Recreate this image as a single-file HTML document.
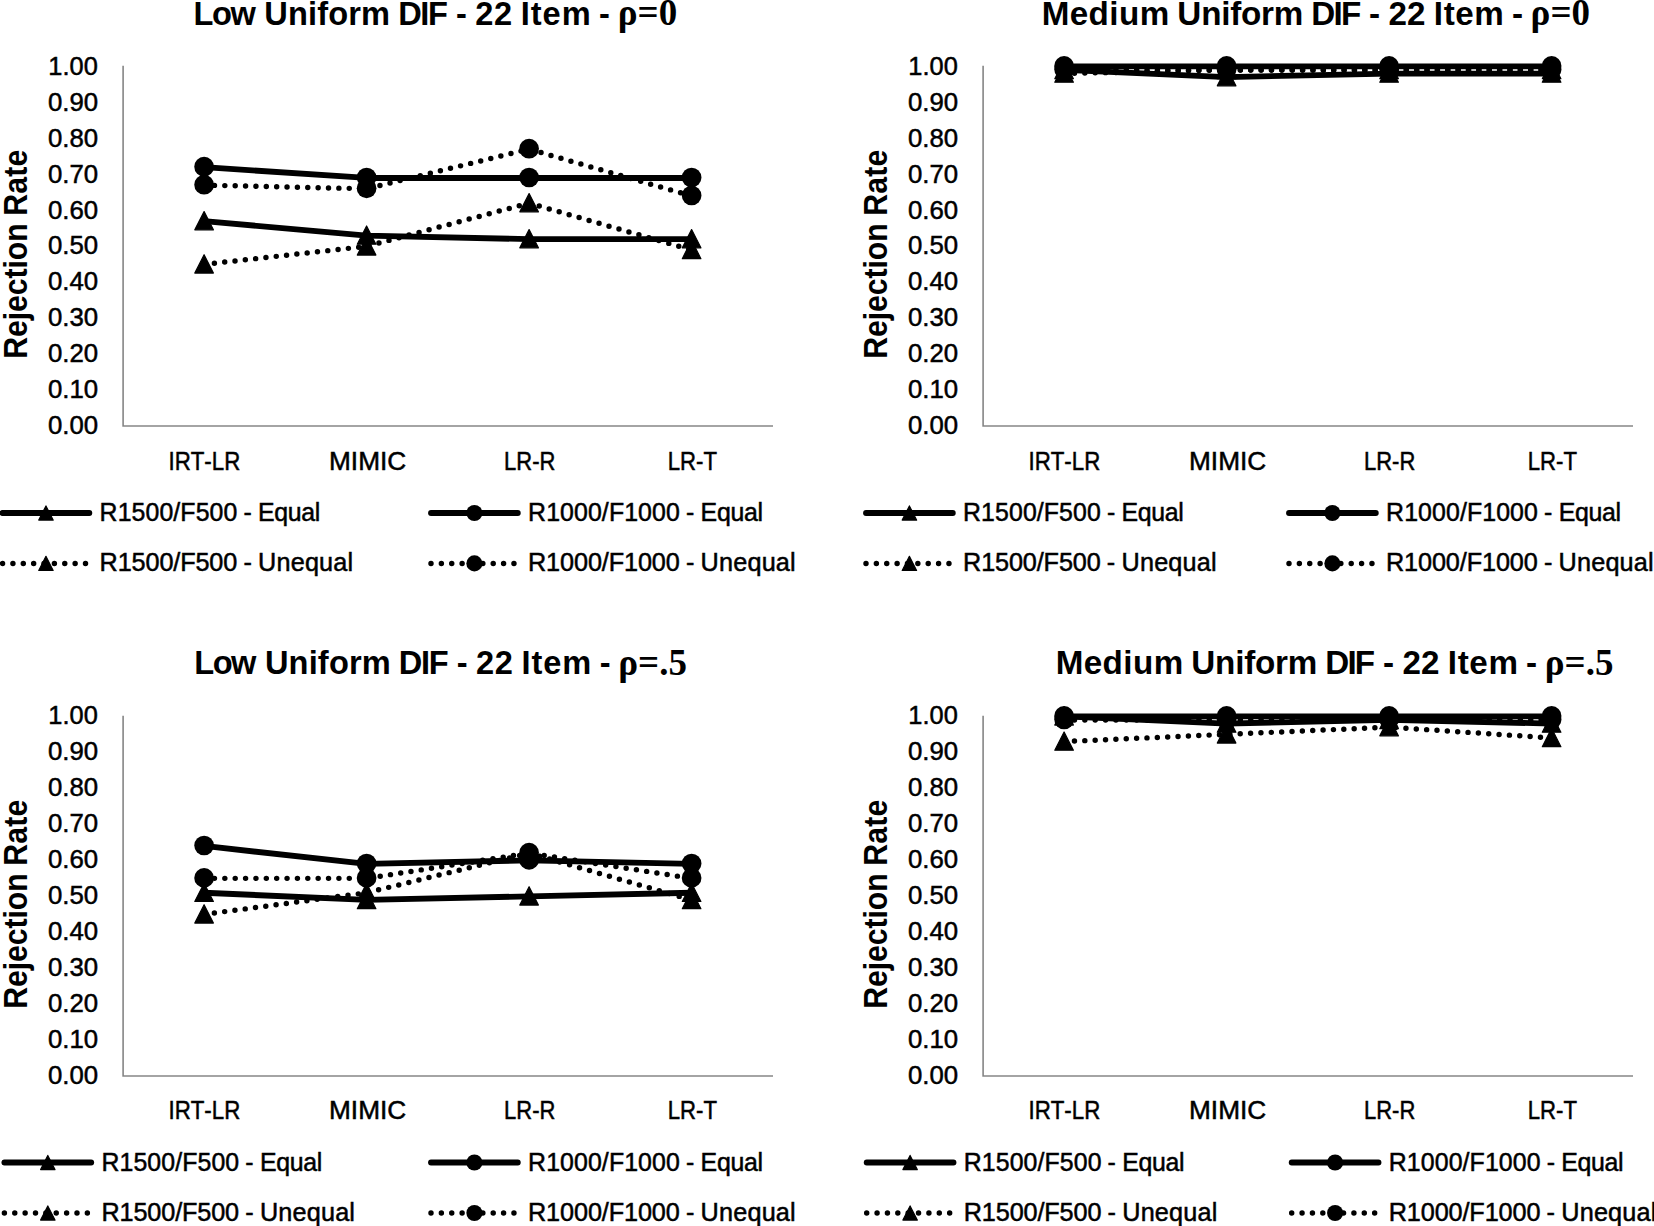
<!DOCTYPE html>
<html lang="en">
<head>
<meta charset="utf-8">
<title>Rejection rates - Uniform DIF, 22 items</title>
<style>
html,body{margin:0;padding:0;background:#fff;}
svg{display:block;}
text{fill:#000;white-space:pre;}
</style>
</head>
<body>
<svg width="1654" height="1226" viewBox="0 0 1654 1226">
<rect x="0" y="0" width="1654" height="1226" fill="#fff"/>
<!-- chart 1 -->
<path d="M123.1 65.8 V426.05 H773" fill="none" stroke="#868686" stroke-width="1.6"/>
<polyline points="204.1,221.15 366.6,235.55 529.1,239.15 691.6,239.15" fill="none" stroke="#000" stroke-width="5.85" stroke-linecap="round" stroke-linejoin="round"/>
<polygon points="204.1,211.55 213.4,229.85 194.8,229.85" fill="#000" stroke="#000" stroke-width="1.2" stroke-linejoin="round"/>
<polygon points="366.6,225.95 375.9,244.25 357.3,244.25" fill="#000" stroke="#000" stroke-width="1.2" stroke-linejoin="round"/>
<polygon points="529.1,229.55 538.4,247.85 519.8,247.85" fill="#000" stroke="#000" stroke-width="1.2" stroke-linejoin="round"/>
<polygon points="691.6,229.55 700.9,247.85 682.3,247.85" fill="#000" stroke="#000" stroke-width="1.2" stroke-linejoin="round"/>
<polyline points="204.1,167.15 366.6,177.95 529.1,177.95 691.6,177.95" fill="none" stroke="#000" stroke-width="5.85" stroke-linecap="round" stroke-linejoin="round"/>
<circle cx="204.1" cy="166.7" r="9.85" fill="#000"/>
<circle cx="366.6" cy="177.5" r="9.85" fill="#000"/>
<circle cx="529.1" cy="177.5" r="9.85" fill="#000"/>
<circle cx="691.6" cy="177.5" r="9.85" fill="#000"/>
<polyline points="204.1,264.35 366.6,246.35 529.1,203.15 691.6,249.95" fill="none" stroke="#000" stroke-width="5.45" stroke-linecap="round" stroke-linejoin="round" stroke-dasharray="0 10.37"/>
<polygon points="204.1,254.75 213.4,273.05 194.8,273.05" fill="#000" stroke="#000" stroke-width="1.2" stroke-linejoin="round"/>
<polygon points="366.6,236.75 375.9,255.05 357.3,255.05" fill="#000" stroke="#000" stroke-width="1.2" stroke-linejoin="round"/>
<polygon points="529.1,193.55 538.4,211.85 519.8,211.85" fill="#000" stroke="#000" stroke-width="1.2" stroke-linejoin="round"/>
<polygon points="691.6,240.35 700.9,258.65 682.3,258.65" fill="#000" stroke="#000" stroke-width="1.2" stroke-linejoin="round"/>
<polyline points="204.1,185.15 366.6,188.75 529.1,149.15 691.6,195.95" fill="none" stroke="#000" stroke-width="5.45" stroke-linecap="round" stroke-linejoin="round" stroke-dasharray="0 10.37"/>
<circle cx="204.1" cy="184.7" r="9.85" fill="#000"/>
<circle cx="366.6" cy="188.3" r="9.85" fill="#000"/>
<circle cx="529.1" cy="148.7" r="9.85" fill="#000"/>
<circle cx="691.6" cy="195.5" r="9.85" fill="#000"/>
<line x1="2.55" y1="513" x2="89.35" y2="513" stroke="#000" stroke-width="5.85" stroke-linecap="round"/>
<polygon points="45.95,505.9 53.15,520.1 38.75,520.1" fill="#000" stroke="#000" stroke-width="1.2" stroke-linejoin="round"/>
<line x1="2.55" y1="563.4" x2="89.35" y2="563.4" stroke="#000" stroke-width="5.45" stroke-linecap="round" stroke-dasharray="0 10.37"/>
<polygon points="45.95,556.3 53.15,570.5 38.75,570.5" fill="#000" stroke="#000" stroke-width="1.2" stroke-linejoin="round"/>
<line x1="431" y1="513" x2="517.8" y2="513" stroke="#000" stroke-width="5.85" stroke-linecap="round"/>
<circle cx="474.4" cy="513" r="8.05" fill="#000"/>
<line x1="431" y1="563.4" x2="517.8" y2="563.4" stroke="#000" stroke-width="5.45" stroke-linecap="round" stroke-dasharray="0 10.37"/>
<circle cx="474.4" cy="563.4" r="8.05" fill="#000"/>
<!-- chart 2 -->
<path d="M983.1 65.8 V426.05 H1633" fill="none" stroke="#868686" stroke-width="1.6"/>
<polyline points="1064.1,69.95 1226.6,77.15 1389.1,73.55 1551.6,73.55" fill="none" stroke="#000" stroke-width="5.85" stroke-linecap="round" stroke-linejoin="round"/>
<polygon points="1064.1,60.35 1073.4,78.65 1054.8,78.65" fill="#000" stroke="#000" stroke-width="1.2" stroke-linejoin="round"/>
<polygon points="1226.6,67.55 1235.9,85.85 1217.3,85.85" fill="#000" stroke="#000" stroke-width="1.2" stroke-linejoin="round"/>
<polygon points="1389.1,63.95 1398.4,82.25 1379.8,82.25" fill="#000" stroke="#000" stroke-width="1.2" stroke-linejoin="round"/>
<polygon points="1551.6,63.95 1560.9,82.25 1542.3,82.25" fill="#000" stroke="#000" stroke-width="1.2" stroke-linejoin="round"/>
<polyline points="1064.1,66.35 1226.6,66.35 1389.1,66.35 1551.6,66.35" fill="none" stroke="#000" stroke-width="5.85" stroke-linecap="round" stroke-linejoin="round"/>
<circle cx="1064.1" cy="65.9" r="9.85" fill="#000"/>
<circle cx="1226.6" cy="65.9" r="9.85" fill="#000"/>
<circle cx="1389.1" cy="65.9" r="9.85" fill="#000"/>
<circle cx="1551.6" cy="65.9" r="9.85" fill="#000"/>
<polyline points="1064.1,73.55 1226.6,69.95 1389.1,69.95 1551.6,69.95" fill="none" stroke="#000" stroke-width="5.45" stroke-linecap="round" stroke-linejoin="round" stroke-dasharray="0 10.37"/>
<polygon points="1064.1,63.95 1073.4,82.25 1054.8,82.25" fill="#000" stroke="#000" stroke-width="1.2" stroke-linejoin="round"/>
<polygon points="1226.6,60.35 1235.9,78.65 1217.3,78.65" fill="#000" stroke="#000" stroke-width="1.2" stroke-linejoin="round"/>
<polygon points="1389.1,60.35 1398.4,78.65 1379.8,78.65" fill="#000" stroke="#000" stroke-width="1.2" stroke-linejoin="round"/>
<polygon points="1551.6,60.35 1560.9,78.65 1542.3,78.65" fill="#000" stroke="#000" stroke-width="1.2" stroke-linejoin="round"/>
<polyline points="1064.1,69.95 1226.6,69.95 1389.1,69.95 1551.6,69.95" fill="none" stroke="#000" stroke-width="5.45" stroke-linecap="round" stroke-linejoin="round" stroke-dasharray="0 10.37"/>
<circle cx="1064.1" cy="69.5" r="9.85" fill="#000"/>
<circle cx="1226.6" cy="69.5" r="9.85" fill="#000"/>
<circle cx="1389.1" cy="69.5" r="9.85" fill="#000"/>
<circle cx="1551.6" cy="69.5" r="9.85" fill="#000"/>
<line x1="866" y1="513" x2="952.8" y2="513" stroke="#000" stroke-width="5.85" stroke-linecap="round"/>
<polygon points="909.4,505.9 916.6,520.1 902.2,520.1" fill="#000" stroke="#000" stroke-width="1.2" stroke-linejoin="round"/>
<line x1="866" y1="563.4" x2="952.8" y2="563.4" stroke="#000" stroke-width="5.45" stroke-linecap="round" stroke-dasharray="0 10.37"/>
<polygon points="909.4,556.3 916.6,570.5 902.2,570.5" fill="#000" stroke="#000" stroke-width="1.2" stroke-linejoin="round"/>
<line x1="1289" y1="513" x2="1375.8" y2="513" stroke="#000" stroke-width="5.85" stroke-linecap="round"/>
<circle cx="1332.4" cy="513" r="8.05" fill="#000"/>
<line x1="1289" y1="563.4" x2="1375.8" y2="563.4" stroke="#000" stroke-width="5.45" stroke-linecap="round" stroke-dasharray="0 10.37"/>
<circle cx="1332.4" cy="563.4" r="8.05" fill="#000"/>
<!-- chart 3 -->
<path d="M123.1 715.8 V1076.05 H773" fill="none" stroke="#868686" stroke-width="1.6"/>
<polyline points="204.1,892.75 366.6,899.95 529.1,896.35 691.6,892.75" fill="none" stroke="#000" stroke-width="5.85" stroke-linecap="round" stroke-linejoin="round"/>
<polygon points="204.1,883.15 213.4,901.45 194.8,901.45" fill="#000" stroke="#000" stroke-width="1.2" stroke-linejoin="round"/>
<polygon points="366.6,890.35 375.9,908.65 357.3,908.65" fill="#000" stroke="#000" stroke-width="1.2" stroke-linejoin="round"/>
<polygon points="529.1,886.75 538.4,905.05 519.8,905.05" fill="#000" stroke="#000" stroke-width="1.2" stroke-linejoin="round"/>
<polygon points="691.6,883.15 700.9,901.45 682.3,901.45" fill="#000" stroke="#000" stroke-width="1.2" stroke-linejoin="round"/>
<polyline points="204.1,845.95 366.6,863.95 529.1,860.35 691.6,863.95" fill="none" stroke="#000" stroke-width="5.85" stroke-linecap="round" stroke-linejoin="round"/>
<circle cx="204.1" cy="845.5" r="9.85" fill="#000"/>
<circle cx="366.6" cy="863.5" r="9.85" fill="#000"/>
<circle cx="529.1" cy="859.9" r="9.85" fill="#000"/>
<circle cx="691.6" cy="863.5" r="9.85" fill="#000"/>
<polyline points="204.1,914.35 366.6,892.75 529.1,853.15 691.6,899.95" fill="none" stroke="#000" stroke-width="5.45" stroke-linecap="round" stroke-linejoin="round" stroke-dasharray="0 10.37"/>
<polygon points="204.1,904.75 213.4,923.05 194.8,923.05" fill="#000" stroke="#000" stroke-width="1.2" stroke-linejoin="round"/>
<polygon points="366.6,883.15 375.9,901.45 357.3,901.45" fill="#000" stroke="#000" stroke-width="1.2" stroke-linejoin="round"/>
<polygon points="529.1,843.55 538.4,861.85 519.8,861.85" fill="#000" stroke="#000" stroke-width="1.2" stroke-linejoin="round"/>
<polygon points="691.6,890.35 700.9,908.65 682.3,908.65" fill="#000" stroke="#000" stroke-width="1.2" stroke-linejoin="round"/>
<polyline points="204.1,878.35 366.6,878.35 529.1,853.15 691.6,878.35" fill="none" stroke="#000" stroke-width="5.45" stroke-linecap="round" stroke-linejoin="round" stroke-dasharray="0 10.37"/>
<circle cx="204.1" cy="877.9" r="9.85" fill="#000"/>
<circle cx="366.6" cy="877.9" r="9.85" fill="#000"/>
<circle cx="529.1" cy="852.7" r="9.85" fill="#000"/>
<circle cx="691.6" cy="877.9" r="9.85" fill="#000"/>
<line x1="4.4" y1="1162.5" x2="91.2" y2="1162.5" stroke="#000" stroke-width="5.85" stroke-linecap="round"/>
<polygon points="47.8,1155.4 55,1169.6 40.6,1169.6" fill="#000" stroke="#000" stroke-width="1.2" stroke-linejoin="round"/>
<line x1="4.4" y1="1213" x2="91.2" y2="1213" stroke="#000" stroke-width="5.45" stroke-linecap="round" stroke-dasharray="0 10.37"/>
<polygon points="47.8,1205.9 55,1220.1 40.6,1220.1" fill="#000" stroke="#000" stroke-width="1.2" stroke-linejoin="round"/>
<line x1="431" y1="1162.5" x2="517.8" y2="1162.5" stroke="#000" stroke-width="5.85" stroke-linecap="round"/>
<circle cx="474.4" cy="1162.5" r="8.05" fill="#000"/>
<line x1="431" y1="1213" x2="517.8" y2="1213" stroke="#000" stroke-width="5.45" stroke-linecap="round" stroke-dasharray="0 10.37"/>
<circle cx="474.4" cy="1213" r="8.05" fill="#000"/>
<!-- chart 4 -->
<path d="M983.1 715.8 V1076.05 H1633" fill="none" stroke="#868686" stroke-width="1.6"/>
<polyline points="1064.1,716.35 1226.6,723.55 1389.1,719.95 1551.6,723.55" fill="none" stroke="#000" stroke-width="5.85" stroke-linecap="round" stroke-linejoin="round"/>
<polygon points="1064.1,706.75 1073.4,725.05 1054.8,725.05" fill="#000" stroke="#000" stroke-width="1.2" stroke-linejoin="round"/>
<polygon points="1226.6,713.95 1235.9,732.25 1217.3,732.25" fill="#000" stroke="#000" stroke-width="1.2" stroke-linejoin="round"/>
<polygon points="1389.1,710.35 1398.4,728.65 1379.8,728.65" fill="#000" stroke="#000" stroke-width="1.2" stroke-linejoin="round"/>
<polygon points="1551.6,713.95 1560.9,732.25 1542.3,732.25" fill="#000" stroke="#000" stroke-width="1.2" stroke-linejoin="round"/>
<polyline points="1064.1,716.35 1226.6,716.35 1389.1,716.35 1551.6,716.35" fill="none" stroke="#000" stroke-width="5.85" stroke-linecap="round" stroke-linejoin="round"/>
<circle cx="1064.1" cy="715.9" r="9.85" fill="#000"/>
<circle cx="1226.6" cy="715.9" r="9.85" fill="#000"/>
<circle cx="1389.1" cy="715.9" r="9.85" fill="#000"/>
<circle cx="1551.6" cy="715.9" r="9.85" fill="#000"/>
<polyline points="1064.1,741.55 1226.6,734.35 1389.1,727.15 1551.6,737.95" fill="none" stroke="#000" stroke-width="5.45" stroke-linecap="round" stroke-linejoin="round" stroke-dasharray="0 10.37"/>
<polygon points="1064.1,731.95 1073.4,750.25 1054.8,750.25" fill="#000" stroke="#000" stroke-width="1.2" stroke-linejoin="round"/>
<polygon points="1226.6,724.75 1235.9,743.05 1217.3,743.05" fill="#000" stroke="#000" stroke-width="1.2" stroke-linejoin="round"/>
<polygon points="1389.1,717.55 1398.4,735.85 1379.8,735.85" fill="#000" stroke="#000" stroke-width="1.2" stroke-linejoin="round"/>
<polygon points="1551.6,728.35 1560.9,746.65 1542.3,746.65" fill="#000" stroke="#000" stroke-width="1.2" stroke-linejoin="round"/>
<polyline points="1064.1,719.95 1226.6,719.95 1389.1,719.95 1551.6,719.95" fill="none" stroke="#000" stroke-width="5.45" stroke-linecap="round" stroke-linejoin="round" stroke-dasharray="0 10.37"/>
<circle cx="1064.1" cy="719.5" r="9.85" fill="#000"/>
<circle cx="1226.6" cy="719.5" r="9.85" fill="#000"/>
<circle cx="1389.1" cy="719.5" r="9.85" fill="#000"/>
<circle cx="1551.6" cy="719.5" r="9.85" fill="#000"/>
<line x1="866.7" y1="1162.5" x2="953.5" y2="1162.5" stroke="#000" stroke-width="5.85" stroke-linecap="round"/>
<polygon points="910.1,1155.4 917.3,1169.6 902.9,1169.6" fill="#000" stroke="#000" stroke-width="1.2" stroke-linejoin="round"/>
<line x1="866.7" y1="1213" x2="953.5" y2="1213" stroke="#000" stroke-width="5.45" stroke-linecap="round" stroke-dasharray="0 10.37"/>
<polygon points="910.1,1205.9 917.3,1220.1 902.9,1220.1" fill="#000" stroke="#000" stroke-width="1.2" stroke-linejoin="round"/>
<line x1="1291.7" y1="1162.5" x2="1378.5" y2="1162.5" stroke="#000" stroke-width="5.85" stroke-linecap="round"/>
<circle cx="1335.1" cy="1162.5" r="8.05" fill="#000"/>
<line x1="1291.7" y1="1213" x2="1378.5" y2="1213" stroke="#000" stroke-width="5.45" stroke-linecap="round" stroke-dasharray="0 10.37"/>
<circle cx="1335.1" cy="1213" r="8.05" fill="#000"/>
<g>
<text id="c1_tick0" transform="scale(0.9767 1)" x="49.52 63.98 71.2 85.66" y="74.65" style="font-family:'Liberation Sans',sans-serif;font-size:26px;stroke:#000;stroke-width:0.5px;">1.00</text>
<text id="c1_tick1" transform="scale(0.9922 1)" x="48.27 62.73 69.96 84.42" y="110.62" style="font-family:'Liberation Sans',sans-serif;font-size:26px;stroke:#000;stroke-width:0.5px;">0.90</text>
<text id="c1_tick2" transform="scale(0.9922 1)" x="48.27 62.73 69.96 84.42" y="146.58" style="font-family:'Liberation Sans',sans-serif;font-size:26px;stroke:#000;stroke-width:0.5px;">0.80</text>
<text id="c1_tick3" transform="scale(0.9922 1)" x="48.27 62.73 69.96 84.42" y="182.55" style="font-family:'Liberation Sans',sans-serif;font-size:26px;stroke:#000;stroke-width:0.5px;">0.70</text>
<text id="c1_tick4" transform="scale(0.9922 1)" x="48.27 62.73 69.96 84.42" y="218.51" style="font-family:'Liberation Sans',sans-serif;font-size:26px;stroke:#000;stroke-width:0.5px;">0.60</text>
<text id="c1_tick5" transform="scale(0.9922 1)" x="48.27 62.73 69.96 84.42" y="254.47" style="font-family:'Liberation Sans',sans-serif;font-size:26px;stroke:#000;stroke-width:0.5px;">0.50</text>
<text id="c1_tick6" transform="scale(0.9922 1)" x="48.27 62.73 69.96 84.42" y="290.44" style="font-family:'Liberation Sans',sans-serif;font-size:26px;stroke:#000;stroke-width:0.5px;">0.40</text>
<text id="c1_tick7" transform="scale(0.9922 1)" x="48.27 62.73 69.96 84.42" y="326.4" style="font-family:'Liberation Sans',sans-serif;font-size:26px;stroke:#000;stroke-width:0.5px;">0.30</text>
<text id="c1_tick8" transform="scale(0.9922 1)" x="48.27 62.73 69.96 84.42" y="362.37" style="font-family:'Liberation Sans',sans-serif;font-size:26px;stroke:#000;stroke-width:0.5px;">0.20</text>
<text id="c1_tick9" transform="scale(0.9922 1)" x="48.27 62.73 69.96 84.42" y="398.33" style="font-family:'Liberation Sans',sans-serif;font-size:26px;stroke:#000;stroke-width:0.5px;">0.10</text>
<text id="c1_tick10" transform="scale(0.9922 1)" x="48.27 62.73 69.96 84.42" y="434.3" style="font-family:'Liberation Sans',sans-serif;font-size:26px;stroke:#000;stroke-width:0.5px;">0.00</text>
<text id="c1_cat0" transform="scale(0.8919 1)" x="188.88 195.82 213.88 229.15 237.47 251.38" y="469.9" style="font-family:'Liberation Sans',sans-serif;font-size:25px;stroke:#000;stroke-width:0.5px;">IRT-LR</text>
<text id="c1_cat1" transform="scale(1.0495 1)" x="313.49 334.31 341.26 362.08 369.03" y="469.9" style="font-family:'Liberation Sans',sans-serif;font-size:25px;stroke:#000;stroke-width:0.5px;">MIMIC</text>
<text id="c1_cat2" transform="scale(0.8789 1)" x="573.5 587.4 605.46 613.78" y="469.9" style="font-family:'Liberation Sans',sans-serif;font-size:25px;stroke:#000;stroke-width:0.5px;">LR-R</text>
<text id="c1_cat3" transform="scale(0.8875 1)" x="752.36 766.27 784.32 792.64" y="469.9" style="font-family:'Liberation Sans',sans-serif;font-size:25px;stroke:#000;stroke-width:0.5px;">LR-T</text>
<text id="c1_axt" transform="translate(26.9 0) rotate(-90) scale(0.9349 1)" x="-383.73 -360.47 -342.58 -333.68 -315.79 -297.89 -287.21 -278.31 -258.65 -238.99 -230.65 -207.13 -188.98 -178.03" y="0" style="font-family:'Liberation Sans',sans-serif;font-size:32.3px;font-weight:bold;">Rejection Rate</text>
<text id="c1_title0" transform="scale(0.9591 1)" x="201.86 221.04 240.22 266.86 275.48 300.19 321.11 330.71 342.19 363.11 376.5 406.68 415.14 438.26 446.27 466.72 475.47 486.92 495.6 515.11 533.97 542.89 553.36 565.7 585.63 615.81 624.55" y="24.8" style="font-family:'Liberation Sans',sans-serif;font-size:34px;font-weight:bold;">Low Uniform DIF - 22 Item -</text>
<text id="c1_title1" x="617.81" y="25.2" style="font-family:'Liberation Serif',serif;font-size:37px;font-weight:bold;">ρ=0</text>
<text id="c1_lg00" transform="scale(0.9943 1)" x="100.18 118.33 132.33 146.34 160.34 174.34 181.38 196.75 210.75 224.75 238.4 244.86 253.3 259.55 275.9 289.48 303.06 316.64" y="520.9" style="font-family:'Liberation Sans',sans-serif;font-size:25px;stroke:#000;stroke-width:0.5px;">R1500/F500 - Equal</text>
<text id="c1_lg01" transform="scale(1.0102 1)" x="98.57 116.49 130.25 144.01 157.78 171.54 178.35 193.48 207.24 221 234.64 240.93 249.31 255.49 273.7 287.76 301.82 315.88 329.94 344" y="571.5" style="font-family:'Liberation Sans',sans-serif;font-size:25px;stroke:#000;stroke-width:0.5px;">R1500/F500 - Unequal</text>
<text id="c1_lg10" transform="scale(0.9956 1)" x="530.4 548.55 562.55 576.54 590.54 604.54 611.59 626.95 640.95 654.95 668.95 682.6 689.04 697.48 703.73 720.06 733.62 747.18 760.74" y="520.9" style="font-family:'Liberation Sans',sans-serif;font-size:25px;stroke:#000;stroke-width:0.5px;">R1000/F1000 - Equal</text>
<text id="c1_lg11" transform="scale(1.0104 1)" x="522.57 540.5 554.28 568.06 581.84 595.62 602.45 617.59 631.37 645.15 658.93 672.57 678.86 687.23 693.41 711.62 725.67 739.73 753.79 767.84 781.9" y="571.5" style="font-family:'Liberation Sans',sans-serif;font-size:25px;stroke:#000;stroke-width:0.5px;">R1000/F1000 - Unequal</text>
<text id="c2_tick0" transform="scale(0.9767 1)" x="930.04 944.5 951.72 966.18" y="74.65" style="font-family:'Liberation Sans',sans-serif;font-size:26px;stroke:#000;stroke-width:0.5px;">1.00</text>
<text id="c2_tick1" transform="scale(0.9922 1)" x="915.03 929.49 936.72 951.18" y="110.62" style="font-family:'Liberation Sans',sans-serif;font-size:26px;stroke:#000;stroke-width:0.5px;">0.90</text>
<text id="c2_tick2" transform="scale(0.9922 1)" x="915.03 929.49 936.72 951.18" y="146.58" style="font-family:'Liberation Sans',sans-serif;font-size:26px;stroke:#000;stroke-width:0.5px;">0.80</text>
<text id="c2_tick3" transform="scale(0.9922 1)" x="915.03 929.49 936.72 951.18" y="182.55" style="font-family:'Liberation Sans',sans-serif;font-size:26px;stroke:#000;stroke-width:0.5px;">0.70</text>
<text id="c2_tick4" transform="scale(0.9922 1)" x="915.03 929.49 936.72 951.18" y="218.51" style="font-family:'Liberation Sans',sans-serif;font-size:26px;stroke:#000;stroke-width:0.5px;">0.60</text>
<text id="c2_tick5" transform="scale(0.9922 1)" x="915.03 929.49 936.72 951.18" y="254.47" style="font-family:'Liberation Sans',sans-serif;font-size:26px;stroke:#000;stroke-width:0.5px;">0.50</text>
<text id="c2_tick6" transform="scale(0.9922 1)" x="915.03 929.49 936.72 951.18" y="290.44" style="font-family:'Liberation Sans',sans-serif;font-size:26px;stroke:#000;stroke-width:0.5px;">0.40</text>
<text id="c2_tick7" transform="scale(0.9922 1)" x="915.03 929.49 936.72 951.18" y="326.4" style="font-family:'Liberation Sans',sans-serif;font-size:26px;stroke:#000;stroke-width:0.5px;">0.30</text>
<text id="c2_tick8" transform="scale(0.9922 1)" x="915.03 929.49 936.72 951.18" y="362.37" style="font-family:'Liberation Sans',sans-serif;font-size:26px;stroke:#000;stroke-width:0.5px;">0.20</text>
<text id="c2_tick9" transform="scale(0.9922 1)" x="915.03 929.49 936.72 951.18" y="398.33" style="font-family:'Liberation Sans',sans-serif;font-size:26px;stroke:#000;stroke-width:0.5px;">0.10</text>
<text id="c2_tick10" transform="scale(0.9922 1)" x="915.03 929.49 936.72 951.18" y="434.3" style="font-family:'Liberation Sans',sans-serif;font-size:26px;stroke:#000;stroke-width:0.5px;">0.00</text>
<text id="c2_cat0" transform="scale(0.8919 1)" x="1153.09 1160.04 1178.09 1193.36 1201.69 1215.59" y="469.9" style="font-family:'Liberation Sans',sans-serif;font-size:25px;stroke:#000;stroke-width:0.5px;">IRT-LR</text>
<text id="c2_cat1" transform="scale(1.0495 1)" x="1132.92 1153.75 1160.69 1181.52 1188.46" y="469.9" style="font-family:'Liberation Sans',sans-serif;font-size:25px;stroke:#000;stroke-width:0.5px;">MIMIC</text>
<text id="c2_cat2" transform="scale(0.8789 1)" x="1551.96 1565.86 1583.91 1592.24" y="469.9" style="font-family:'Liberation Sans',sans-serif;font-size:25px;stroke:#000;stroke-width:0.5px;">LR-R</text>
<text id="c2_cat3" transform="scale(0.8875 1)" x="1721.35 1735.25 1753.3 1761.63" y="469.9" style="font-family:'Liberation Sans',sans-serif;font-size:25px;stroke:#000;stroke-width:0.5px;">LR-T</text>
<text id="c2_axt" transform="translate(887.2 0) rotate(-90) scale(0.9349 1)" x="-383.73 -360.47 -342.58 -333.68 -315.79 -297.89 -287.21 -278.31 -258.65 -238.99 -230.65 -207.13 -188.98 -178.03" y="0" style="font-family:'Liberation Sans',sans-serif;font-size:32.3px;font-weight:bold;">Rejection Rate</text>
<text id="c2_title0" transform="scale(0.9767 1)" x="1066.49 1095.25 1114.59 1135.8 1145.69 1166.89 1197.04 1205.46 1229.79 1250.33 1259.55 1270.65 1291.19 1304.2 1334.34 1342.6 1365.29 1372.87 1393.3 1401.79 1413.14 1421.64 1440.5 1459.34 1468.06 1478.12 1490.05 1509.56 1539.71 1548.19" y="24.8" style="font-family:'Liberation Sans',sans-serif;font-size:34px;font-weight:bold;">Medium Uniform DIF - 22 Item -</text>
<text id="c2_title1" x="1530.61" y="25.2" style="font-family:'Liberation Serif',serif;font-size:37px;font-weight:bold;">ρ=0</text>
<text id="c2_lg00" transform="scale(0.9943 1)" x="968.6 986.75 1000.75 1014.75 1028.75 1042.75 1049.79 1065.16 1079.16 1093.16 1106.81 1113.27 1121.71 1127.97 1144.32 1157.9 1171.48 1185.06" y="520.9" style="font-family:'Liberation Sans',sans-serif;font-size:25px;stroke:#000;stroke-width:0.5px;">R1500/F500 - Equal</text>
<text id="c2_lg01" transform="scale(1.0102 1)" x="953.31 971.23 984.99 998.75 1012.52 1026.28 1033.09 1048.22 1061.98 1075.74 1089.38 1095.67 1104.05 1110.23 1128.44 1142.5 1156.56 1170.62 1184.68 1198.74" y="571.5" style="font-family:'Liberation Sans',sans-serif;font-size:25px;stroke:#000;stroke-width:0.5px;">R1500/F500 - Unequal</text>
<text id="c2_lg10" transform="scale(0.9956 1)" x="1392.2 1410.35 1424.34 1438.34 1452.34 1466.34 1473.38 1488.75 1502.75 1516.75 1530.75 1544.4 1550.84 1559.28 1565.52 1581.86 1595.42 1608.98 1622.53" y="520.9" style="font-family:'Liberation Sans',sans-serif;font-size:25px;stroke:#000;stroke-width:0.5px;">R1000/F1000 - Equal</text>
<text id="c2_lg11" transform="scale(1.0104 1)" x="1371.71 1389.64 1403.42 1417.2 1430.98 1444.76 1451.58 1466.73 1480.51 1494.29 1508.07 1521.71 1528 1536.37 1542.55 1560.76 1574.81 1588.87 1602.93 1616.98 1631.04" y="571.5" style="font-family:'Liberation Sans',sans-serif;font-size:25px;stroke:#000;stroke-width:0.5px;">R1000/F1000 - Unequal</text>
<text id="c3_tick0" transform="scale(0.9767 1)" x="49.52 63.98 71.2 85.66" y="724.35" style="font-family:'Liberation Sans',sans-serif;font-size:26px;stroke:#000;stroke-width:0.5px;">1.00</text>
<text id="c3_tick1" transform="scale(0.9922 1)" x="48.27 62.73 69.96 84.42" y="760.32" style="font-family:'Liberation Sans',sans-serif;font-size:26px;stroke:#000;stroke-width:0.5px;">0.90</text>
<text id="c3_tick2" transform="scale(0.9922 1)" x="48.27 62.73 69.96 84.42" y="796.28" style="font-family:'Liberation Sans',sans-serif;font-size:26px;stroke:#000;stroke-width:0.5px;">0.80</text>
<text id="c3_tick3" transform="scale(0.9922 1)" x="48.27 62.73 69.96 84.42" y="832.25" style="font-family:'Liberation Sans',sans-serif;font-size:26px;stroke:#000;stroke-width:0.5px;">0.70</text>
<text id="c3_tick4" transform="scale(0.9922 1)" x="48.27 62.73 69.96 84.42" y="868.21" style="font-family:'Liberation Sans',sans-serif;font-size:26px;stroke:#000;stroke-width:0.5px;">0.60</text>
<text id="c3_tick5" transform="scale(0.9922 1)" x="48.27 62.73 69.96 84.42" y="904.18" style="font-family:'Liberation Sans',sans-serif;font-size:26px;stroke:#000;stroke-width:0.5px;">0.50</text>
<text id="c3_tick6" transform="scale(0.9922 1)" x="48.27 62.73 69.96 84.42" y="940.14" style="font-family:'Liberation Sans',sans-serif;font-size:26px;stroke:#000;stroke-width:0.5px;">0.40</text>
<text id="c3_tick7" transform="scale(0.9922 1)" x="48.27 62.73 69.96 84.42" y="976.11" style="font-family:'Liberation Sans',sans-serif;font-size:26px;stroke:#000;stroke-width:0.5px;">0.30</text>
<text id="c3_tick8" transform="scale(0.9922 1)" x="48.27 62.73 69.96 84.42" y="1012.07" style="font-family:'Liberation Sans',sans-serif;font-size:26px;stroke:#000;stroke-width:0.5px;">0.20</text>
<text id="c3_tick9" transform="scale(0.9922 1)" x="48.27 62.73 69.96 84.42" y="1048.04" style="font-family:'Liberation Sans',sans-serif;font-size:26px;stroke:#000;stroke-width:0.5px;">0.10</text>
<text id="c3_tick10" transform="scale(0.9922 1)" x="48.27 62.73 69.96 84.42" y="1084" style="font-family:'Liberation Sans',sans-serif;font-size:26px;stroke:#000;stroke-width:0.5px;">0.00</text>
<text id="c3_cat0" transform="scale(0.8919 1)" x="188.88 195.82 213.88 229.15 237.47 251.38" y="1119.3" style="font-family:'Liberation Sans',sans-serif;font-size:25px;stroke:#000;stroke-width:0.5px;">IRT-LR</text>
<text id="c3_cat1" transform="scale(1.0495 1)" x="313.49 334.31 341.26 362.08 369.03" y="1119.3" style="font-family:'Liberation Sans',sans-serif;font-size:25px;stroke:#000;stroke-width:0.5px;">MIMIC</text>
<text id="c3_cat2" transform="scale(0.8789 1)" x="573.5 587.4 605.46 613.78" y="1119.3" style="font-family:'Liberation Sans',sans-serif;font-size:25px;stroke:#000;stroke-width:0.5px;">LR-R</text>
<text id="c3_cat3" transform="scale(0.8875 1)" x="752.36 766.27 784.32 792.64" y="1119.3" style="font-family:'Liberation Sans',sans-serif;font-size:25px;stroke:#000;stroke-width:0.5px;">LR-T</text>
<text id="c3_axt" transform="translate(26.9 0) rotate(-90) scale(0.9349 1)" x="-1079 -1055.74 -1037.85 -1028.95 -1011.05 -993.16 -982.48 -973.57 -953.92 -934.25 -925.92 -902.4 -884.25 -873.3" y="0" style="font-family:'Liberation Sans',sans-serif;font-size:32.3px;font-weight:bold;">Rejection Rate</text>
<text id="c3_title0" transform="scale(0.9591 1)" x="202.59 221.77 240.95 267.59 276.21 300.92 321.84 331.44 342.92 363.84 377.23 407.41 415.87 438.99 447 467.45 476.2 487.65 496.33 515.84 534.7 543.62 554.09 566.43 586.36 616.54 625.28" y="674.3" style="font-family:'Liberation Sans',sans-serif;font-size:34px;font-weight:bold;">Low Uniform DIF - 22 Item -</text>
<text id="c3_title1" x="618.26" y="674.7" style="font-family:'Liberation Serif',serif;font-size:37px;font-weight:bold;">ρ=.5</text>
<text id="c3_lg00" transform="scale(0.9943 1)" x="102.04 120.2 134.2 148.2 162.2 176.2 183.24 198.61 212.61 226.61 240.26 246.72 255.16 261.42 277.77 291.34 304.92 318.5" y="1170.9" style="font-family:'Liberation Sans',sans-serif;font-size:25px;stroke:#000;stroke-width:0.5px;">R1500/F500 - Equal</text>
<text id="c3_lg01" transform="scale(1.0102 1)" x="100.41 118.32 132.08 145.85 159.61 173.37 180.18 195.31 209.07 222.84 236.48 242.77 251.14 257.32 275.53 289.59 303.65 317.71 331.77 345.83" y="1221" style="font-family:'Liberation Sans',sans-serif;font-size:25px;stroke:#000;stroke-width:0.5px;">R1500/F500 - Unequal</text>
<text id="c3_lg10" transform="scale(0.9956 1)" x="530.4 548.55 562.55 576.54 590.54 604.54 611.59 626.95 640.95 654.95 668.95 682.6 689.04 697.48 703.73 720.06 733.62 747.18 760.74" y="1170.9" style="font-family:'Liberation Sans',sans-serif;font-size:25px;stroke:#000;stroke-width:0.5px;">R1000/F1000 - Equal</text>
<text id="c3_lg11" transform="scale(1.0104 1)" x="522.57 540.5 554.28 568.06 581.84 595.62 602.45 617.59 631.37 645.15 658.93 672.57 678.86 687.23 693.41 711.62 725.67 739.73 753.79 767.84 781.9" y="1221" style="font-family:'Liberation Sans',sans-serif;font-size:25px;stroke:#000;stroke-width:0.5px;">R1000/F1000 - Unequal</text>
<text id="c4_tick0" transform="scale(0.9767 1)" x="930.04 944.5 951.72 966.18" y="724.35" style="font-family:'Liberation Sans',sans-serif;font-size:26px;stroke:#000;stroke-width:0.5px;">1.00</text>
<text id="c4_tick1" transform="scale(0.9922 1)" x="915.03 929.49 936.72 951.18" y="760.32" style="font-family:'Liberation Sans',sans-serif;font-size:26px;stroke:#000;stroke-width:0.5px;">0.90</text>
<text id="c4_tick2" transform="scale(0.9922 1)" x="915.03 929.49 936.72 951.18" y="796.28" style="font-family:'Liberation Sans',sans-serif;font-size:26px;stroke:#000;stroke-width:0.5px;">0.80</text>
<text id="c4_tick3" transform="scale(0.9922 1)" x="915.03 929.49 936.72 951.18" y="832.25" style="font-family:'Liberation Sans',sans-serif;font-size:26px;stroke:#000;stroke-width:0.5px;">0.70</text>
<text id="c4_tick4" transform="scale(0.9922 1)" x="915.03 929.49 936.72 951.18" y="868.21" style="font-family:'Liberation Sans',sans-serif;font-size:26px;stroke:#000;stroke-width:0.5px;">0.60</text>
<text id="c4_tick5" transform="scale(0.9922 1)" x="915.03 929.49 936.72 951.18" y="904.18" style="font-family:'Liberation Sans',sans-serif;font-size:26px;stroke:#000;stroke-width:0.5px;">0.50</text>
<text id="c4_tick6" transform="scale(0.9922 1)" x="915.03 929.49 936.72 951.18" y="940.14" style="font-family:'Liberation Sans',sans-serif;font-size:26px;stroke:#000;stroke-width:0.5px;">0.40</text>
<text id="c4_tick7" transform="scale(0.9922 1)" x="915.03 929.49 936.72 951.18" y="976.11" style="font-family:'Liberation Sans',sans-serif;font-size:26px;stroke:#000;stroke-width:0.5px;">0.30</text>
<text id="c4_tick8" transform="scale(0.9922 1)" x="915.03 929.49 936.72 951.18" y="1012.07" style="font-family:'Liberation Sans',sans-serif;font-size:26px;stroke:#000;stroke-width:0.5px;">0.20</text>
<text id="c4_tick9" transform="scale(0.9922 1)" x="915.03 929.49 936.72 951.18" y="1048.04" style="font-family:'Liberation Sans',sans-serif;font-size:26px;stroke:#000;stroke-width:0.5px;">0.10</text>
<text id="c4_tick10" transform="scale(0.9922 1)" x="915.03 929.49 936.72 951.18" y="1084" style="font-family:'Liberation Sans',sans-serif;font-size:26px;stroke:#000;stroke-width:0.5px;">0.00</text>
<text id="c4_cat0" transform="scale(0.8919 1)" x="1153.09 1160.04 1178.09 1193.36 1201.69 1215.59" y="1119.3" style="font-family:'Liberation Sans',sans-serif;font-size:25px;stroke:#000;stroke-width:0.5px;">IRT-LR</text>
<text id="c4_cat1" transform="scale(1.0495 1)" x="1132.92 1153.75 1160.69 1181.52 1188.46" y="1119.3" style="font-family:'Liberation Sans',sans-serif;font-size:25px;stroke:#000;stroke-width:0.5px;">MIMIC</text>
<text id="c4_cat2" transform="scale(0.8789 1)" x="1551.96 1565.86 1583.91 1592.24" y="1119.3" style="font-family:'Liberation Sans',sans-serif;font-size:25px;stroke:#000;stroke-width:0.5px;">LR-R</text>
<text id="c4_cat3" transform="scale(0.8875 1)" x="1721.35 1735.25 1753.3 1761.63" y="1119.3" style="font-family:'Liberation Sans',sans-serif;font-size:25px;stroke:#000;stroke-width:0.5px;">LR-T</text>
<text id="c4_axt" transform="translate(887.2 0) rotate(-90) scale(0.9349 1)" x="-1079 -1055.74 -1037.85 -1028.95 -1011.05 -993.16 -982.48 -973.57 -953.92 -934.25 -925.92 -902.4 -884.25 -873.3" y="0" style="font-family:'Liberation Sans',sans-serif;font-size:32.3px;font-weight:bold;">Rejection Rate</text>
<text id="c4_title0" transform="scale(0.9767 1)" x="1080.82 1109.58 1128.93 1150.14 1160.02 1181.23 1211.37 1219.79 1244.12 1264.67 1273.89 1284.98 1305.53 1318.53 1348.68 1356.94 1379.62 1387.2 1407.64 1416.12 1427.47 1435.98 1454.84 1473.68 1482.4 1492.45 1504.38 1523.9 1554.04 1562.53" y="674.3" style="font-family:'Liberation Sans',sans-serif;font-size:34px;font-weight:bold;">Medium Uniform DIF - 22 Item -</text>
<text id="c4_title1" x="1544.81" y="674.7" style="font-family:'Liberation Serif',serif;font-size:37px;font-weight:bold;">ρ=.5</text>
<text id="c4_lg00" transform="scale(0.9943 1)" x="969.3 987.45 1001.45 1015.45 1029.45 1043.45 1050.5 1065.86 1079.86 1093.87 1107.52 1113.97 1122.41 1128.67 1145.02 1158.6 1172.18 1185.76" y="1170.9" style="font-family:'Liberation Sans',sans-serif;font-size:25px;stroke:#000;stroke-width:0.5px;">R1500/F500 - Equal</text>
<text id="c4_lg01" transform="scale(1.0102 1)" x="954.01 971.92 985.68 999.45 1013.21 1026.97 1033.78 1048.91 1062.67 1076.44 1090.08 1096.37 1104.74 1110.92 1129.13 1143.19 1157.25 1171.31 1185.37 1199.43" y="1221" style="font-family:'Liberation Sans',sans-serif;font-size:25px;stroke:#000;stroke-width:0.5px;">R1500/F500 - Unequal</text>
<text id="c4_lg10" transform="scale(0.9956 1)" x="1394.91 1413.06 1427.06 1441.06 1455.06 1469.05 1476.1 1491.46 1505.46 1519.46 1533.46 1547.11 1553.55 1561.99 1568.24 1584.57 1598.13 1611.69 1625.25" y="1170.9" style="font-family:'Liberation Sans',sans-serif;font-size:25px;stroke:#000;stroke-width:0.5px;">R1000/F1000 - Equal</text>
<text id="c4_lg11" transform="scale(1.0104 1)" x="1374.38 1392.31 1406.09 1419.87 1433.65 1447.43 1454.26 1469.4 1483.18 1496.96 1510.74 1524.38 1530.67 1539.04 1545.22 1563.43 1577.48 1591.54 1605.6 1619.65 1633.71" y="1221" style="font-family:'Liberation Sans',sans-serif;font-size:25px;stroke:#000;stroke-width:0.5px;">R1000/F1000 - Unequal</text>
</g>
</svg>
</body>
</html>
